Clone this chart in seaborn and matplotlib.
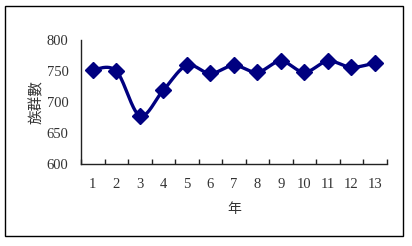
import numpy as np
import pandas as pd
import matplotlib
matplotlib.use("Agg")
import matplotlib.pyplot as plt
import seaborn as sns
from matplotlib.patches import Rectangle

years = [1, 2, 3, 4, 5, 6, 7, 8, 9, 10, 11, 12, 13]
counts = [752, 750, 678, 719, 759, 746, 759, 748, 766, 748, 766, 756, 763]
y_ticks = [600, 650, 700, 750, 800]
x_label = "年"
y_label = "族群數"

sns.set_theme(style="white")
plt.rcParams['font.family'] = ['Liberation Serif', 'Noto Sans CJK TC']

NAVY = "#000080"

# Smooth curve (Excel-style cubic Bezier through points)
def smooth(xs, ys, n=30):
    xs = np.asarray(xs, float); ys = np.asarray(ys, float)
    px = np.concatenate([[xs[0]], xs, [xs[-1]]])
    py = np.concatenate([[ys[0]], ys, [ys[-1]]])
    ox, oy = [], []
    for i in range(1, len(px) - 2):
        p0 = np.array([px[i - 1], py[i - 1]]); p1 = np.array([px[i], py[i]])
        p2 = np.array([px[i + 1], py[i + 1]]); p3 = np.array([px[i + 2], py[i + 2]])
        c1 = p1 + (p2 - p0) / 6.0
        c2 = p2 - (p3 - p1) / 6.0
        t = np.linspace(0, 1, n, endpoint=(i == len(px) - 3))[:, None]
        pts = ((1 - t) ** 3) * p1 + 3 * ((1 - t) ** 2) * t * c1 + 3 * (1 - t) * t ** 2 * c2 + t ** 3 * p2
        ox.extend(pts[:, 0]); oy.extend(pts[:, 1])
    return np.array(ox), np.array(oy)

sx, sy = smooth(years, counts)
curve = pd.DataFrame({"x": sx, "y": sy})
pts = pd.DataFrame({"x": years, "y": counts})

fig = plt.figure(figsize=(4.12, 2.46), dpi=100)
fig.patch.set_facecolor("white")
fig.patches.append(Rectangle((5 / 412, 1 - 236 / 246), 398 / 412, 230 / 246,
                             transform=fig.transFigure, fill=False,
                             edgecolor="black", linewidth=1.0, zorder=0))

ax = fig.add_axes([81 / 412, 1 - 164 / 246, (386.7 - 81) / 412, 124 / 246])
sns.lineplot(data=curve, x="x", y="y", ax=ax, color=NAVY, linewidth=2.4,
             sort=False, estimator=None)
ax.plot(pts["x"], pts["y"], linestyle="none", marker="D", markersize=8.3,
        markerfacecolor=NAVY, markeredgecolor=NAVY, markeredgewidth=1.0, zorder=5)

ax.set_xlim(0.5, 13.5)
ax.set_ylim(600, 800)
ax.set_xticks(years)
ax.set_xticklabels([str(v) for v in years])
ax.set_xticks(np.arange(0.5, 14.0, 1.0), minor=True)
ax.set_yticks(y_ticks)
ax.set_yticklabels([str(v) for v in y_ticks])

for s in ["top", "right"]:
    ax.spines[s].set_visible(False)
for s in ["left", "bottom"]:
    ax.spines[s].set_color("#222222")
    ax.spines[s].set_linewidth(1.0)

FS = 10.5
ax.tick_params(axis="x", which="major", length=0, pad=10, labelsize=FS, colors="#333333")
ax.tick_params(axis="x", which="minor", direction="in", length=3.5, width=1.0,
               color="#222222", bottom=True)
ax.tick_params(axis="y", which="major", direction="out", length=3, width=1.0,
               pad=6, labelsize=FS, labelcolor="#333333", color="#222222")

ax.set_xlabel(x_label, fontsize=10, color="#333333", family=['Noto Sans CJK TC'], labelpad=8)
ax.set_ylabel(y_label, fontsize=10.5, color="#333333", family=['Noto Sans CJK TC'], labelpad=2)
ax.grid(False)
ax.set_facecolor("white")

fig.savefig("out.png", dpi=100)
